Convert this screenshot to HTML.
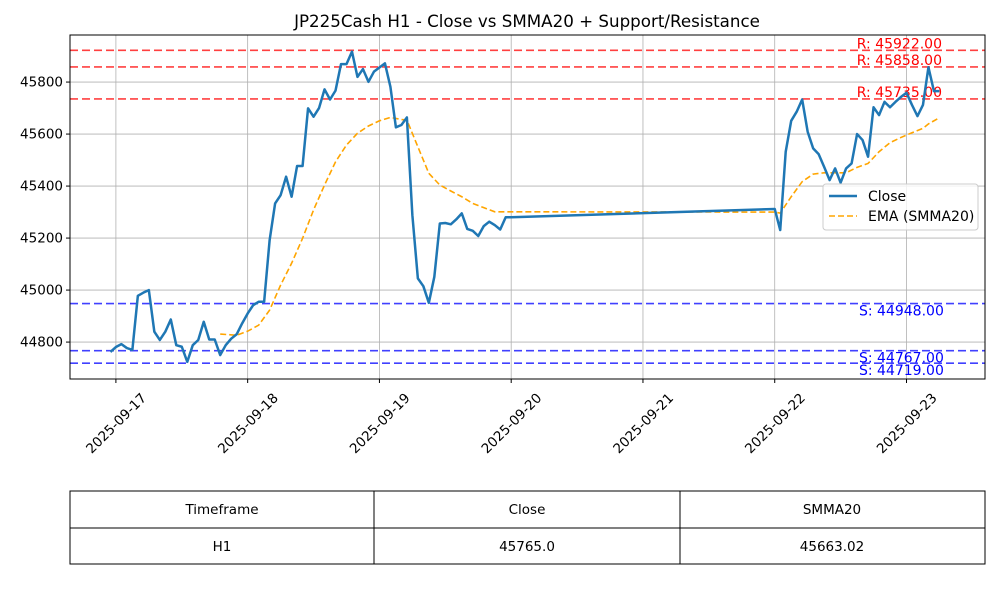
<!DOCTYPE html>
<html><head><meta charset="utf-8"><style>
html,body{margin:0;padding:0;background:#fff;}
svg{display:block;font-family:"DejaVu Sans","Liberation Sans",sans-serif;}
</style></head><body>
<svg id="chart" width="1000" height="600" viewBox="0 0 1000 600" xmlns="http://www.w3.org/2000/svg">
<rect x="0" y="0" width="1000" height="600" fill="#fff"/>
<text x="527" y="27" text-anchor="middle" font-size="16.7">JP225Cash H1 - Close vs SMMA20 + Support/Resistance</text>
<g id="grid"></g>
<g id="levels"></g>
<g id="series"></g>
<rect x="70" y="35" width="915" height="344" fill="none" stroke="#000" stroke-width="1"/>
<g id="axes"></g>
<g>
<rect x="823" y="184" width="155" height="46" rx="3" fill="#fff" fill-opacity="0.8" stroke="#ccc"/>
<line x1="829" y1="196" x2="857" y2="196" stroke="#1f77b4" stroke-width="2.5"/>
<text x="868" y="201" font-size="14">Close</text>
<line x1="829" y1="216" x2="857" y2="216" stroke="orange" stroke-width="1.5" stroke-dasharray="6,3"/>
<text x="868" y="221" font-size="14">EMA (SMMA20)</text>
</g>
<g font-size="13.5">
<rect x="70" y="491" width="915" height="73" fill="none" stroke="#000"/>
<line x1="70" y1="528" x2="985" y2="528" stroke="#000"/>
<line x1="374" y1="491" x2="374" y2="564" stroke="#000"/>
<line x1="680" y1="491" x2="680" y2="564" stroke="#000"/>
<text x="222" y="514" text-anchor="middle">Timeframe</text>
<text x="527" y="514" text-anchor="middle">Close</text>
<text x="832" y="514" text-anchor="middle">SMMA20</text>
<text x="222" y="551" text-anchor="middle">H1</text>
<text x="527" y="551" text-anchor="middle">45765.0</text>
<text x="832" y="551" text-anchor="middle">45663.02</text>
</g>
</svg>
<script>
const NS="http://www.w3.org/2000/svg";
// hours since 2025-09-17 00:00
const closeHours=[-1,0,1,2,3,4,5,6,7,8,9,10,11,12,13,14,15,16,17,18,19,20,21,22,23,24,25,26,27,28,29,30,31,32,33,34,35,36,37,38,39,40,41,42,43,44,45,46,47,48,49,50,51,52,53,54,55,56,57,58,59,60,61,62,63,64,65,66,67,68,69,70,71,72,
120,121,122,123,124,125,126,127,128,129,130,131,132,133,134,135,136,137,138,139,140,141,142,143,144,145,146,147,148,149,150];
const closeValues=[44762,44781,44792,44777,44770,44978,44990,45000,44840,44808,44840,44887,44788,44782,44724,44788,44808,44878,44810,44810,44750,44788,44813,44830,44872,44910,44942,44955,44955,45192,45333,45365,45436,45359,45477,45477,45699,45667,45700,45772,45733,45767,45869,45869,45917,45820,45850,45801,45840,45856,45872,45782,45626,45635,45664,45288,45045,45015,44951,45051,45256,45258,45253,45272,45295,45235,45228,45208,45246,45263,45250,45233,45280,45280,
45312,45231,45532,45651,45686,45733,45609,45545,45523,45474,45423,45468,45413,45468,45487,45600,45577,45513,45703,45673,45724,45703,45724,45743,45759,45712,45669,45712,45857,45765,45765];
const smmaHours=[19,22,24,26,28,30,32,34,36,38,40,42,44,46,48,50,52,53,55,57,59,61,63,65,67,69,72,120,121,123,125,127,129,131,133,135,137,139,141,143,145,147,148,150];
const smmaValues=[44831,44826,44842,44865,44923,45019,45103,45199,45308,45404,45493,45558,45603,45631,45651,45664,45656,45654,45551,45449,45404,45381,45359,45333,45317,45301,45301,45300,45296,45359,45417,45446,45451,45451,45451,45472,45487,45532,45567,45587,45605,45622,45639,45663];
const resistance=[45922,45858,45735];
const support=[44948,44767,44719];
const yTicks=[44800,45000,45200,45400,45600,45800];
const xTickHours=[0,24,48,72,96,120,144];
const xTickLabels=["2025-09-17","2025-09-18","2025-09-19","2025-09-20","2025-09-21","2025-09-22","2025-09-23"];

const X0=70,X1=985,Y0=35,Y1=379;
const hMin=-8.36,hMax=158.3;
const vMin=44658,vMax=45981;
const xs=h=>X0+(h-hMin)/(hMax-hMin)*(X1-X0);
const ys=v=>Y1-(v-vMin)/(vMax-vMin)*(Y1-Y0);
function mk(tag,attrs,parent){const e=document.createElementNS(NS,tag);for(const k in attrs)e.setAttribute(k,attrs[k]);parent.appendChild(e);return e;}
const grid=document.getElementById('grid'),axes=document.getElementById('axes'),lv=document.getElementById('levels'),se=document.getElementById('series');
yTicks.forEach(v=>{
  const y=ys(v);
  const g=mk('line',{x1:X0,x2:X1,y1:y,y2:y,stroke:'#b0b0b0','stroke-width':0.8},grid);
  
  
  mk('line',{x1:X0-4,x2:X0,y1:y,y2:y,stroke:'#000'},axes);
  const t=mk('text',{x:X0-7,y:y+4.5,'text-anchor':'end','font-size':13.5},axes);
  t.textContent=v;
  
  
});
xTickHours.forEach((h,i)=>{
  const x=xs(h);
  const g=mk('line',{x1:x,x2:x,y1:Y0,y2:Y1,stroke:'#b0b0b0','stroke-width':0.8},grid);
  
  
  mk('line',{x1:x,x2:x,y1:Y1,y2:Y1+4,stroke:'#000'},axes);
  const t=mk('text',{x:x,y:428,'text-anchor':'middle','font-size':13.5,transform:`rotate(-45 ${x} 423)`},axes);
  t.textContent=xTickLabels[i];
  
  
});
resistance.forEach(v=>{
  const y=ys(v);
  const l=mk('line',{x1:X0,x2:X1,y1:y,y2:y,stroke:'#ff4040','stroke-width':1.6,'stroke-dasharray':'8,4'},lv);
  
  
  const t=mk('text',{x:942,y:y-2,'text-anchor':'end','font-size':14,fill:'red'},lv);
  t.textContent='R: '+v.toFixed(2);
  
  
});
support.forEach(v=>{
  const y=ys(v);
  const l=mk('line',{x1:X0,x2:X1,y1:y,y2:y,stroke:'#4040ff','stroke-width':1.6,'stroke-dasharray':'8,4'},lv);
  
  
  const t=mk('text',{x:859,y:y+12,'font-size':14,fill:'blue'},lv);
  t.textContent='S: '+v.toFixed(2);
  
  
});
const sp=mk('polyline',{points:smmaHours.map((h,i)=>xs(h)+','+ys(smmaValues[i])).join(' '),fill:'none',stroke:'orange','stroke-width':1.6,'stroke-dasharray':'6,3'},se);


const cp=mk('polyline',{points:closeHours.map((h,i)=>xs(h)+','+ys(closeValues[i])).join(' '),fill:'none',stroke:'#1f77b4','stroke-width':2.5,'stroke-linejoin':'round'},se);


</script>
</body></html>
